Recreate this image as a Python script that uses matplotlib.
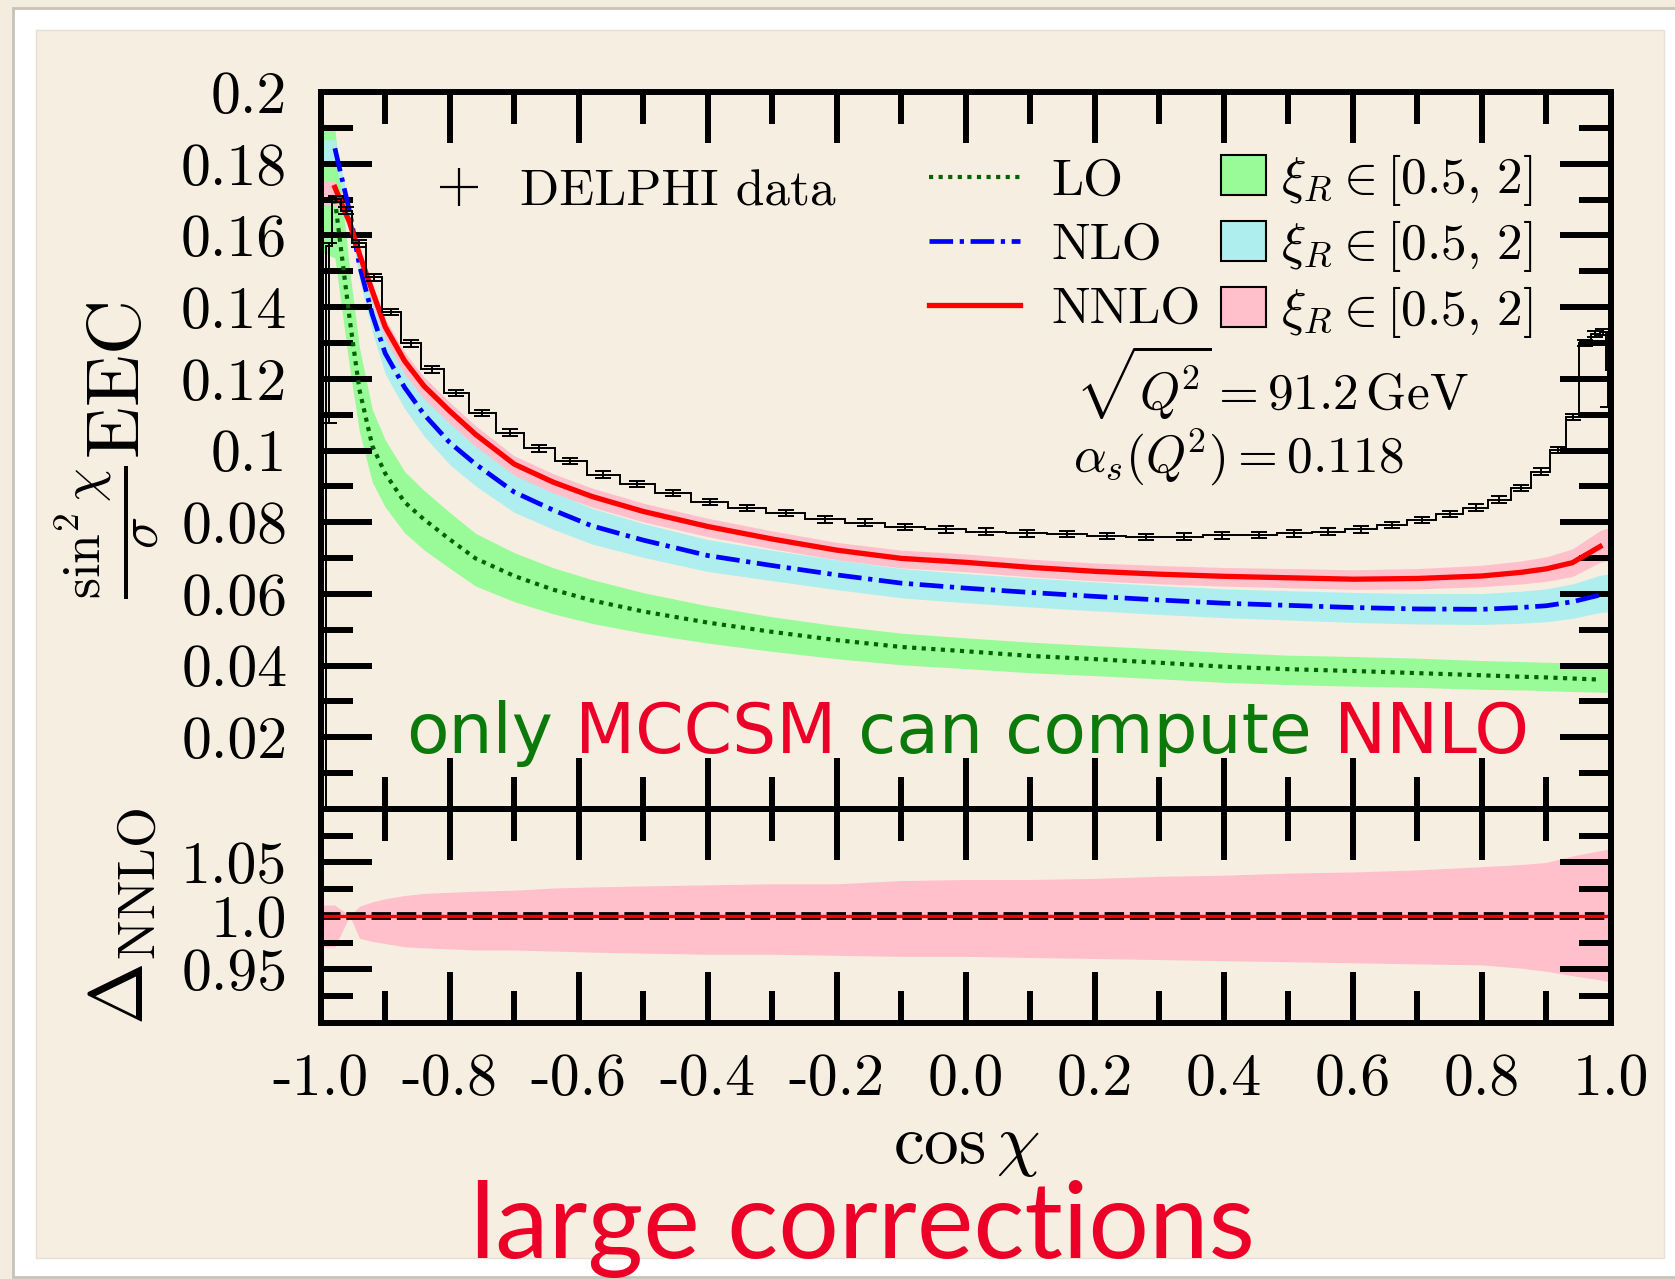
import numpy as np
import matplotlib
matplotlib.use("Agg")
import matplotlib.pyplot as plt
from matplotlib.patches import Rectangle, Patch
from matplotlib.lines import Line2D

plt.rcParams['font.family'] = 'cmr10'
plt.rcParams['mathtext.fontset'] = 'cm'
plt.rcParams['axes.unicode_minus'] = False

# ---------------------------------------------------------------
# DATA
# ---------------------------------------------------------------
# DELPHI data, 3.6 degree bins in chi (k = 1 .. 48, counted from cos chi = -1)
chi_edges_deg = np.arange(180.0, -0.1, -3.6)
data_vals = [0.0, 0.1570, 0.1702, 0.1669, 0.1578, 0.1483, 0.1387, 0.1299, 0.1226, 0.1160,
             0.1104, 0.1050, 0.1006, 0.0971, 0.0933, 0.0907, 0.0882, 0.0857, 0.0839, 0.0825,
             0.0808, 0.0799, 0.0787, 0.0780, 0.0774, 0.0769, 0.0767, 0.0761, 0.0758, 0.0760,
             0.0763, 0.0764, 0.0769, 0.0774, 0.0780, 0.0792, 0.0806, 0.0823, 0.0841, 0.0863,
             0.0895, 0.0941, 0.1001, 0.1094, 0.1300, 0.1325, 0.1330, 0.1225]
data_err_lo = [0.0, 0.0493] + [0.0009] * 42 + [0.0008, 0.0008, 0.0008, 0.0105]
data_err_hi = [0.0, 0.0010] + [0.0009] * 42 + [0.0008, 0.0008, 0.0008, 0.0105]

# theory curves (cos chi grid)
theory_x = [-1.0, -0.978, -0.955, -0.94, -0.92, -0.90, -0.87, -0.84, -0.80, -0.76,
            -0.70, -0.64, -0.58, -0.50, -0.40, -0.30, -0.20, -0.10, 0.0, 0.10,
            0.20, 0.30, 0.40, 0.50, 0.60, 0.70, 0.80, 0.86, 0.90, 0.94, 0.983, 1.0]

lo_c = [0.1720, 0.1700, 0.1365, 0.1170, 0.1013, 0.0936, 0.0856, 0.0808, 0.0752, 0.0699,
        0.0650, 0.0612, 0.0582, 0.0551, 0.0520, 0.0494, 0.0471, 0.0452, 0.0440, 0.0427,
        0.0418, 0.0408, 0.0397, 0.0390, 0.0385, 0.0379, 0.0373, 0.0369, 0.0367, 0.0364,
        0.0361, 0.0360]
lo_rel_lo = [0.904, 0.904, 0.90, 0.90, 0.90, 0.90, 0.90, 0.895, 0.893, 0.89,
             0.89, 0.89, 0.89, 0.89, 0.89, 0.89, 0.89, 0.89, 0.89, 0.89,
             0.89, 0.89, 0.89, 0.89, 0.89, 0.895, 0.895, 0.90, 0.90, 0.90, 0.903, 0.903]
lo_rel_hi = [1.115, 1.115, 1.10, 1.10, 1.10, 1.10, 1.10, 1.10, 1.10, 1.10,
             1.10, 1.10, 1.10, 1.095, 1.09, 1.085, 1.085, 1.085, 1.085, 1.09,
             1.09, 1.095, 1.10, 1.10, 1.105, 1.11, 1.11, 1.115, 1.115, 1.12, 1.12, 1.12]

nlo_c = [0.1843, 0.1843, 0.1665, 0.1517, 0.1379, 0.1271, 0.1176, 0.1101, 0.1022, 0.0962,
         0.0884, 0.0834, 0.0790, 0.0750, 0.0707, 0.0679, 0.0653, 0.0630, 0.0616, 0.0604,
         0.0593, 0.0583, 0.0574, 0.0568, 0.0562, 0.0558, 0.0557, 0.0562, 0.0567, 0.0578,
         0.0597, 0.0600]
nlo_rel_lo = [0.977, 0.977, 0.985, 0.975, 0.965, 0.955, 0.950, 0.945, 0.940, 0.937,
              0.936, 0.936, 0.936, 0.936, 0.937, 0.938, 0.937, 0.935, 0.934, 0.933,
              0.932, 0.931, 0.930, 0.928, 0.926, 0.925, 0.924, 0.922, 0.921, 0.920,
              0.918, 0.918]
nlo_rel_hi = [1.013, 1.013, 1.008, 1.020, 1.030, 1.040, 1.045, 1.050, 1.055, 1.058,
              1.060, 1.061, 1.062, 1.062, 1.063, 1.063, 1.064, 1.065, 1.066, 1.067,
              1.068, 1.069, 1.070, 1.072, 1.075, 1.077, 1.079, 1.081, 1.083, 1.086,
              1.092, 1.094]

nnlo_c = [0.1734, 0.1734, 0.1635, 0.1548, 0.1445, 0.1345, 0.1250, 0.1180, 0.1110, 0.1045,
          0.0962, 0.0912, 0.0872, 0.0830, 0.0788, 0.0753, 0.0722, 0.0699, 0.0688, 0.0674,
          0.0663, 0.0655, 0.0649, 0.0645, 0.0641, 0.0643, 0.0650, 0.0660, 0.0670, 0.0687,
          0.0732, 0.0740]
# NNLO scale band relative to the central NNLO curve (lower panel)
nnlo_ratio_lo = [0.971, 0.971, 1.0, 0.979, 0.976, 0.974, 0.971, 0.970, 0.969, 0.968,
                 0.968, 0.967, 0.966, 0.965, 0.964, 0.964, 0.963, 0.962, 0.962, 0.961,
                 0.960, 0.959, 0.958, 0.957, 0.956, 0.955, 0.954, 0.951, 0.948, 0.944,
                 0.940, 0.938]
nnlo_ratio_hi = [1.010, 1.010, 1.0, 1.009, 1.013, 1.016, 1.019, 1.021, 1.022, 1.023,
                 1.024, 1.026, 1.027, 1.028, 1.029, 1.030, 1.030, 1.033, 1.034, 1.034,
                 1.035, 1.037, 1.038, 1.040, 1.041, 1.043, 1.046, 1.048, 1.050, 1.056,
                 1.061, 1.063]

xtick_major = [-1.0, -0.8, -0.6, -0.4, -0.2, 0.0, 0.2, 0.4, 0.6, 0.8, 1.0]
xtick_labels = ['-1.0', '-0.8', '-0.6', '-0.4', '-0.2', '0.0', '0.2', '0.4', '0.6', '0.8', '1.0']
ytop_major = [0.02, 0.04, 0.06, 0.08, 0.10, 0.12, 0.14, 0.16, 0.18, 0.20]
ytop_labels = ['0.02', '0.04', '0.06', '0.08', '0.1', '0.12', '0.14', '0.16', '0.18', '0.2']
ybot_major = [0.95, 1.0, 1.05]
ybot_labels = ['0.95', '1.0', '1.05']

claim_words = ['only', ' MCCSM', ' can compute', ' NNLO']

# ---------------------------------------------------------------
# STYLE
# ---------------------------------------------------------------
W, H = 1675, 1279
outer_bg = '#f4ecde'
inner_bg = '#f6eee0'
green_txt = '#0b7a0b'
red_txt = '#ec0028'
claim_colors = [green_txt, red_txt, green_txt, red_txt]
c_lo, c_nlo, c_nnlo = '#006400', '#0000ff', '#ff0000'
b_lo, b_nlo, b_nnlo = '#98fb98', '#afeeee', '#ffc0cb'
ls_lo = (0, (1.0, 1.3))
ls_nlo = (0, (5.0, 1.4, 0.9, 1.4))
LW_FRAME = 4.3


def px_rect(x0, y0, x1, y1):
    return [x0 / W, 1 - y1 / H, (x1 - x0) / W, (y1 - y0) / H]


fig = plt.figure(figsize=(W / 100, H / 100), dpi=100)
fig.patch.set_facecolor(outer_bg)

# slide-like border
fig.add_artist(Rectangle((13 / W, 1 - 1277 / H), 1.0, (1277 - 8) / H, transform=fig.transFigure,
                         facecolor='white', edgecolor='#c8c3ba', lw=2.0, zorder=-10))
fig.add_artist(Rectangle((36 / W, 1 - 1258 / H), (1664 - 36) / W, (1258 - 30) / H,
                         transform=fig.transFigure, facecolor=inner_bg, edgecolor='#e6e0d4',
                         lw=1.0, zorder=-9))

ax = fig.add_axes(px_rect(320.7, 92, 1611, 809))
ax2 = fig.add_axes(px_rect(320.7, 809, 1611, 1022.6))

tx = np.array(theory_x)
lo_c_a, nlo_c_a, nnlo_c_a = np.array(lo_c), np.array(nlo_c), np.array(nnlo_c)

# ---------------- top panel ----------------
ax.fill_between(tx, lo_c_a * np.array(lo_rel_lo), lo_c_a * np.array(lo_rel_hi),
                color=b_lo, lw=0, zorder=1)
ax.fill_between(tx, nlo_c_a * np.array(nlo_rel_lo), nlo_c_a * np.array(nlo_rel_hi),
                color=b_nlo, lw=0, zorder=1.1)
ax.fill_between(tx, nnlo_c_a * np.array(nnlo_ratio_lo), nnlo_c_a * np.array(nnlo_ratio_hi),
                color=b_nnlo, lw=0, zorder=1.2)

ax.plot(tx[1:-1], lo_c_a[1:-1], color=c_lo, lw=3.0, ls=ls_lo, zorder=3)
ax.plot(tx[1:-1], nlo_c_a[1:-1], color=c_nlo, lw=3.4, ls=ls_nlo, zorder=3.1)
ax.plot(tx[1:-1], nnlo_c_a[1:-1], color=c_nnlo, lw=3.8, zorder=3.2)

# DELPHI data histogram with error bars
cos_edges = np.cos(np.radians(chi_edges_deg))
cos_centers = np.cos(np.radians(chi_edges_deg[:-1] - 1.8))
nb = len(data_vals)
edges = cos_edges[1:nb + 2]
centers = cos_centers[1:nb + 1]
ax.stairs(data_vals, edges, baseline=None, color='k', lw=1.4, zorder=5)
ax.errorbar(centers[1:], data_vals[1:], yerr=[data_err_lo[1:], data_err_hi[1:]], fmt='none',
            ecolor='k', elinewidth=1.4, capsize=6, capthick=1.4, zorder=5)

ax.set_xlim(-1, 1)
ax.set_ylim(0, 0.2)
ax.set_yticks(ytop_major)
ax.set_yticklabels(ytop_labels)
ax.set_yticks(np.arange(0.01, 0.2, 0.02), minor=True)
ax.set_xticks(xtick_major)
ax.set_xticks(np.arange(-0.9, 0.95, 0.2), minor=True)
ax.tick_params(labelbottom=False)

# legends
leg1 = ax.legend([Line2D([], [], color='k', marker='+', ls='none', ms=27, mew=1.6)],
                 ['DELPHI data'], loc='center left', bbox_to_anchor=(0.087, 0.8605),
                 frameon=False, fontsize=37, handlelength=1.0, handletextpad=0.7,
                 borderpad=0, borderaxespad=0)
ax.add_artist(leg1)
line_handles = [Line2D([], [], color=c_lo, lw=3.0, ls=ls_lo),
                Line2D([], [], color=c_nlo, lw=3.4, ls=ls_nlo),
                Line2D([], [], color=c_nnlo, lw=3.8)]
leg2 = ax.legend(line_handles, ['LO', 'NLO', 'NNLO'], loc='center left',
                 bbox_to_anchor=(0.4714, 0.7852), frameon=False, fontsize=37,
                 handlelength=1.77, handletextpad=0.62, labelspacing=0.35,
                 borderpad=0, borderaxespad=0)
ax.add_artist(leg2)
xi_label = r'$\xi_R \in [0.5,\,2]$'
patch_handles = [Patch(facecolor=b, edgecolor='k', lw=1.5) for b in (b_lo, b_nlo, b_nnlo)]
leg3 = ax.legend(patch_handles, [xi_label] * 3, loc='center left',
                 bbox_to_anchor=(0.6977, 0.7852), frameon=False, fontsize=37,
                 handlelength=0.876, handleheight=0.82, handletextpad=0.3,
                 labelspacing=0.2, borderpad=0, borderaxespad=0)

ax.text((1075 - 320.7) / 1290.3, (809 - 410) / 717, r'$\sqrt{Q^{\!2}} = 91.2\,\mathrm{GeV}$',
        transform=ax.transAxes, fontsize=37, ha='left', va='baseline', zorder=6)
ax.text((1073 - 320.7) / 1290.3, (809 - 472) / 717, r'$\alpha_s(Q^{\!2}) = 0.118$',
        transform=ax.transAxes, fontsize=37, ha='left', va='baseline', zorder=6)

# ---------------- bottom panel ----------------
ax2.fill_between(tx, nnlo_ratio_lo, nnlo_ratio_hi, color=b_nnlo, lw=0, zorder=1)
ax2.axhline(1.0, color='k', lw=5.6, ls=(0, (2.5, 0.75)), zorder=3)
ax2.plot(tx, nnlo_c_a / nnlo_c_a, color=c_nnlo, lw=2.4, zorder=4)
ax2.set_xlim(-1, 1)
ax2.set_ylim(0.9, 1.1)
ax2.set_xticks(xtick_major)
ax2.set_xticklabels(xtick_labels)
ax2.set_xticks(np.arange(-0.9, 0.95, 0.2), minor=True)
ax2.set_yticks(ybot_major)
ax2.set_yticklabels(ybot_labels)
ax2.set_yticks([0.925, 0.975, 1.025, 1.075], minor=True)

for a in (ax, ax2):
    a.set_facecolor('none')
    for s in a.spines.values():
        s.set_linewidth(LW_FRAME)
        s.set_zorder(10)
    a.tick_params(which='both', direction='in', top=True, right=True, width=LW_FRAME,
                  labelsize=43, zorder=10)
    a.tick_params(which='major', length=37)
    a.tick_params(which='minor', length=23)
    a.tick_params(axis='y', pad=24)
    a.tick_params(axis='x', pad=22)

# no tick line at 1.0 in lower panel
t1 = ax2.yaxis.get_major_ticks()[1]
t1.tick1line.set_visible(False)
t1.tick2line.set_visible(False)

# axis labels
fig.text(107 / W, 1 - 450 / H, r'$\frac{\sin^2\chi}{\sigma}\mathrm{EEC}$', rotation=90,
         ha='center', va='center', fontsize=55)
fig.text(123 / W, 1 - 916 / H, r'$\Delta_{\mathrm{NNLO}}$', rotation=90,
         ha='center', va='center', fontsize=54)
fig.text(966 / W, 1 - 1148 / H, r'$\cos\chi$', ha='center', va='center', fontsize=50)

# overlay annotations (multi-coloured line, words chained one after the other)
prev = fig.text(406 / W, 1 - 753 / H, claim_words[0], color=claim_colors[0], fontsize=50,
                family='DejaVu Sans', va='baseline', ha='left', zorder=20)
for word, col in zip(claim_words[1:], claim_colors[1:]):
    prev = fig.add_artist(matplotlib.text.Annotation(
        word, xy=(1, 0), xycoords=prev, va='bottom', ha='left', color=col,
        fontsize=50, family='DejaVu Sans', zorder=20))

fig.text(470 / W, 1 - 1258 / H, 'large corrections', color=red_txt, fontsize=77,
         family='Lato', va='baseline', ha='left', zorder=20)

fig.savefig('out.png', dpi=100)
